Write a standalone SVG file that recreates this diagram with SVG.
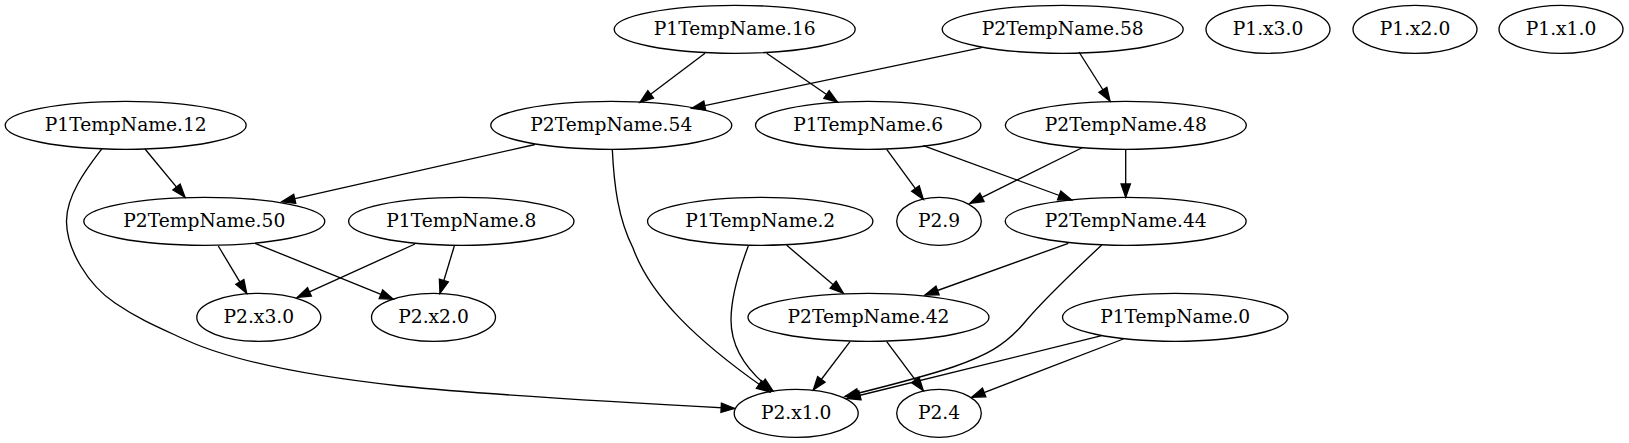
<svg xmlns="http://www.w3.org/2000/svg" width="1629" height="443" viewBox="0 0 1629 443">
<style>
.node ellipse{fill:none;stroke:#000;stroke-width:1.33}
.node text{font-family:"DejaVu Serif","Liberation Serif",serif;font-size:18.67px;text-anchor:middle;fill:#000}
.edges path{fill:none;stroke:#000;stroke-width:1.33;marker-end:url(#arr)}
</style>
<defs>
<marker id="arr" markerUnits="userSpaceOnUse" markerWidth="16" markerHeight="12" refX="13.33" refY="4.67" orient="auto" overflow="visible">
<path d="M0,0 L13.33,4.67 L0,9.33 Z" fill="#000" stroke="#000" stroke-width="1.33"/>
</marker>
</defs>
<rect width="1629" height="443" fill="#fff"/>
<g class="edges" id="edges">
<path d="M705,53.3 L640,102.3"/>
<path d="M766.7,53.3 L837.5,102"/>
<path d="M981.7,47.7 L691.7,108.3"/>
<path d="M1079,52 L1110,101"/>
<path d="M145,149 L185,197.3"/>
<path d="M101.7,149 C88,167 66,195 66.5,222 C67,250 88,285 115,303 C140,320 160,328 186,340 C230,360 300,375 400,386 C500,396 650,404 734.5,408.5"/>
<path d="M535,144.5 L281.7,201.7"/>
<path d="M612.3,149.3 C614,185 618,218 633,248 C650,295 695,340 770,392"/>
<path d="M886.7,149.3 L923.3,199.3"/>
<path d="M923.3,145.7 L1071.7,200"/>
<path d="M1082.6,147.5 L970,203.3"/>
<path d="M1125.7,149.3 L1125.7,197.3"/>
<path d="M218.3,246 L246.7,293.3"/>
<path d="M255,243.3 L393.3,299.3"/>
<path d="M415,244 L297.3,297.3"/>
<path d="M454.3,246 L440,293.3"/>
<path d="M786.7,245.3 L843.3,293.3"/>
<path d="M748.3,246 C740,268 731,296 731,320 C731,348 748,372 773,391"/>
<path d="M1068.3,243.3 L925,295"/>
<path d="M1101.7,245 C1075,270 1045,298 1025,322 C1005,346 985,356 953,367 C920,378 875,389 845,396.5"/>
<path d="M850,341.7 L813.3,390"/>
<path d="M886.7,341.7 L923.3,390.7"/>
<path d="M1101.7,335.7 L847,398.5"/>
<path d="M1123.3,339 L971.7,397.3"/>
</g>
<g class="node" id="P1TempName.16"><ellipse cx="734.7" cy="29.3" rx="120.5" ry="24"/><text x="734.7" y="34.9">P1TempName.16</text></g>
<g class="node" id="P2TempName.58"><ellipse cx="1062.7" cy="29.3" rx="120.5" ry="24"/><text x="1062.7" y="34.9">P2TempName.58</text></g>
<g class="node" id="P1.x3.0"><ellipse cx="1268" cy="29.3" rx="62" ry="24"/><text x="1268" y="34.9">P1.x3.0</text></g>
<g class="node" id="P1.x2.0"><ellipse cx="1415" cy="29.3" rx="62" ry="24"/><text x="1415" y="34.9">P1.x2.0</text></g>
<g class="node" id="P1.x1.0"><ellipse cx="1561" cy="29.3" rx="62" ry="24"/><text x="1561" y="34.9">P1.x1.0</text></g>
<g class="node" id="P1TempName.12"><ellipse cx="125.7" cy="125.3" rx="120.5" ry="24"/><text x="125.7" y="130.9">P1TempName.12</text></g>
<g class="node" id="P2TempName.54"><ellipse cx="611.3" cy="125.3" rx="120.5" ry="24"/><text x="611.3" y="130.9">P2TempName.54</text></g>
<g class="node" id="P1TempName.6"><ellipse cx="868.2" cy="125.3" rx="112.7" ry="24"/><text x="868.2" y="130.9">P1TempName.6</text></g>
<g class="node" id="P2TempName.48"><ellipse cx="1125.8" cy="125.3" rx="120.5" ry="24"/><text x="1125.8" y="130.9">P2TempName.48</text></g>
<g class="node" id="P2TempName.50"><ellipse cx="204.3" cy="221.3" rx="120.5" ry="24"/><text x="204.3" y="226.9">P2TempName.50</text></g>
<g class="node" id="P1TempName.8"><ellipse cx="461.3" cy="221.3" rx="112.7" ry="24"/><text x="461.3" y="226.9">P1TempName.8</text></g>
<g class="node" id="P1TempName.2"><ellipse cx="760.2" cy="221.3" rx="112.7" ry="24"/><text x="760.2" y="226.9">P1TempName.2</text></g>
<g class="node" id="P2.9"><ellipse cx="939" cy="221.3" rx="42.3" ry="24"/><text x="939" y="226.9">P2.9</text></g>
<g class="node" id="P2TempName.44"><ellipse cx="1125.7" cy="221.3" rx="120.5" ry="24"/><text x="1125.7" y="226.9">P2TempName.44</text></g>
<g class="node" id="P2.x3.0"><ellipse cx="258.8" cy="317.3" rx="62" ry="24"/><text x="258.8" y="322.9">P2.x3.0</text></g>
<g class="node" id="P2.x2.0"><ellipse cx="433.5" cy="317.3" rx="62" ry="24"/><text x="433.5" y="322.9">P2.x2.0</text></g>
<g class="node" id="P2TempName.42"><ellipse cx="868.5" cy="317.3" rx="120.5" ry="24"/><text x="868.5" y="322.9">P2TempName.42</text></g>
<g class="node" id="P1TempName.0"><ellipse cx="1175.2" cy="317.3" rx="112.7" ry="24"/><text x="1175.2" y="322.9">P1TempName.0</text></g>
<g class="node" id="P2.x1.0"><ellipse cx="796.2" cy="413.3" rx="62" ry="24"/><text x="796.2" y="418.9">P2.x1.0</text></g>
<g class="node" id="P2.4"><ellipse cx="939" cy="413.3" rx="42.3" ry="24"/><text x="939" y="418.9">P2.4</text></g>
</svg>
